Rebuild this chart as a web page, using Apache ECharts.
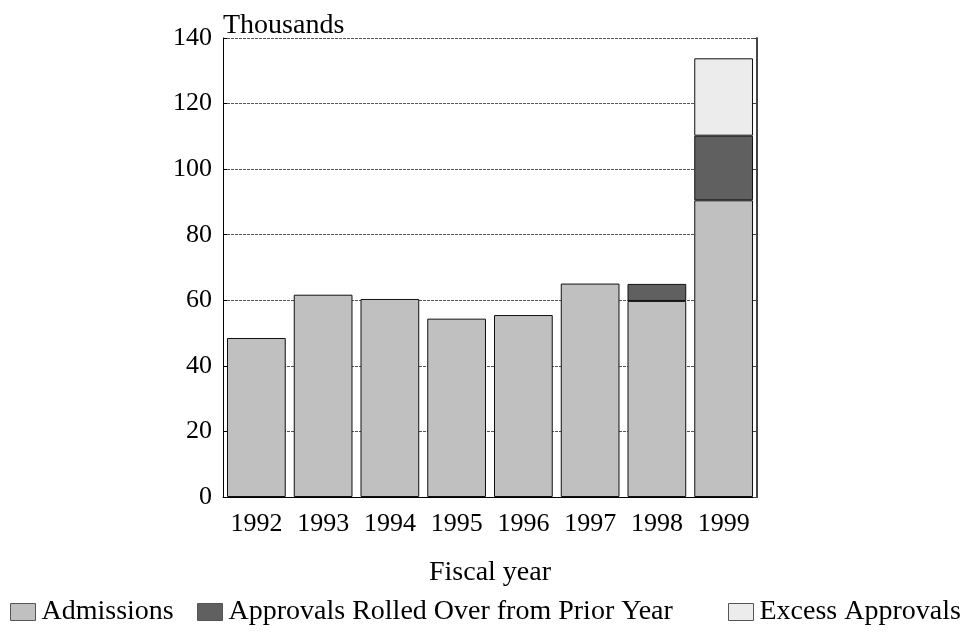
<!DOCTYPE html>
<html>
<head>
<meta charset="utf-8">
<script src="https://cdn.jsdelivr.net/npm/echarts@6/dist/echarts.min.js"></script>
<style>
    html, body { margin: 0; padding: 0; background: #fff; }
    #main { width: 969px; height: 633px; }
</style>
</head>
<body>
<div id="main"></div>
<script>
var years = ['1992', '1993', '1994', '1995', '1996', '1997', '1998', '1999'];
var admissions = [48.5, 61.7, 60.4, 54.4, 55.5, 65.1, 59.8, 90.5];
var rolledOver = [0, 0, 0, 0, 0, 0, 5.2, 19.7];
var excess = [0, 0, 0, 0, 0, 0, 0, 23.6];
var yTicks = [0, 20, 40, 60, 80, 100, 120, 140];

var font = 'Liberation Serif';
var chart = echarts.init(document.getElementById('main'));

function legendAt(name, left) {
    return {
        data: [name],
        left: left,
        top: 598,
        icon: 'rect',
        itemWidth: 25,
        itemHeight: 17,
        itemGap: 0,
        padding: 0,
        itemStyle: { borderColor: '#555', borderWidth: 1 },
        textStyle: { fontFamily: font, fontSize: 28, color: '#000', padding: [2, 0, 0, 1] }
    };
}

function barSeries(name, data, color) {
    return {
        name: name,
        type: 'bar',
        stack: 'total',
        data: data.map(function (v) { return v === 0 ? null : v; }),
        barCategoryGap: '12%',
        itemStyle: { color: color, borderColor: '#111', borderWidth: 1 },
        emphasis: { disabled: true }
    };
}

chart.setOption({
    animation: false,
    legend: [
        legendAt('Admissions', 10),
        legendAt('Approvals Rolled Over from Prior Year', 197),
        legendAt('Excess Approvals', 728)
    ],
    grid: { left: 223, right: 212, top: 38, bottom: 136 },
    xAxis: {
        type: 'category',
        data: years,
        name: 'Fiscal year',
        nameLocation: 'middle',
        nameGap: 62,
        nameTextStyle: { fontFamily: font, fontSize: 28, color: '#000' },
        axisLine: { lineStyle: { color: '#000', width: 1 } },
        axisTick: { show: false },
        axisLabel: { interval: 0, fontFamily: font, fontSize: 26, color: '#000', margin: 14 }
    },
    yAxis: [{
        type: 'value',
        min: 0,
        max: 140,
        interval: 20,
        name: 'Thousands',
        nameLocation: 'end',
        nameGap: 6,
        nameTextStyle: { fontFamily: font, fontSize: 28, color: '#000', align: 'left', padding: [0, 0, -8, 0] },
        axisLine: { show: true, lineStyle: { color: '#000', width: 1 } },
        axisTick: { show: true, inside: true, length: 4, lineStyle: { color: '#000' } },
        axisLabel: {
            fontFamily: font, fontSize: 26, color: '#000', margin: 11,
            formatter: function (v) { return yTicks.indexOf(v) >= 0 ? String(v) : ''; }
        },
        splitLine: { show: true, lineStyle: { color: '#555', type: [3, 1], width: 1 } }
    }, {
        type: 'value',
        min: 0,
        max: 140,
        interval: 20,
        position: 'right',
        axisLine: { show: true, lineStyle: { color: '#444', width: 2 } },
        axisTick: { show: true, inside: true, length: 4, lineStyle: { color: '#444' } },
        axisLabel: { show: false },
        splitLine: { show: false }
    }],
    series: [
        barSeries('Admissions', admissions, '#c0c0c0'),
        barSeries('Approvals Rolled Over from Prior Year', rolledOver, '#606060'),
        barSeries('Excess Approvals', excess, '#ececec')
    ]
});
</script>
</body>
</html>
